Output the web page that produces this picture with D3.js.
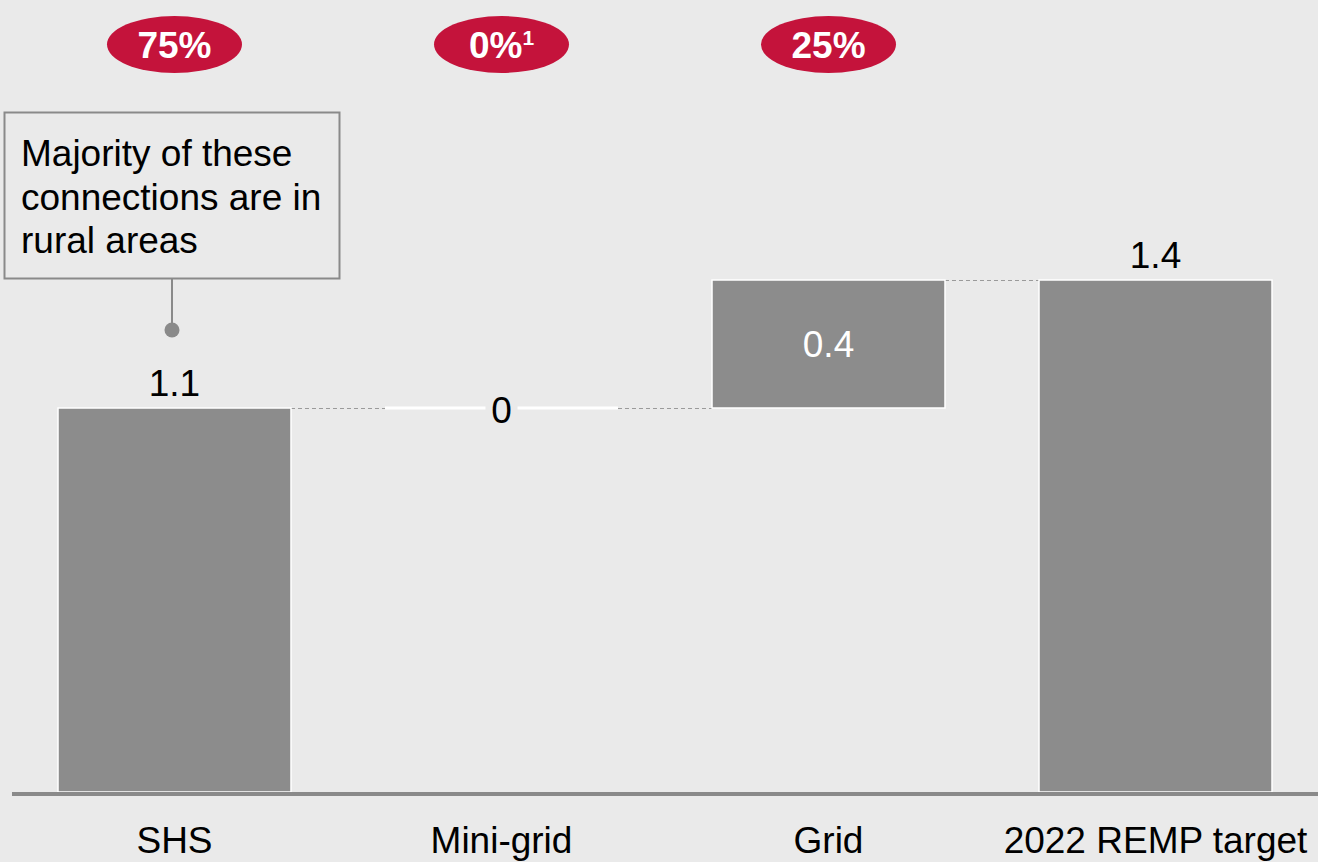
<!DOCTYPE html>
<html>
<head>
<meta charset="utf-8">
<script src="https://cdn.jsdelivr.net/npm/d3@7"></script>
<style>
  body { margin: 0; background: #eaeaea; }
  svg { display: block; font-family: "Liberation Sans", Arial, sans-serif; }
</style>
</head>
<body>
<script>
// waterfall data
var categories = ["SHS", "Mini-grid", "Grid", "2022 REMP target"];
var values = [1.05, 0, 0.35, 1.4];
var valueLabels = ["1.1", "0", "0.4", "1.4"];
var isTotal = [false, false, false, true];
var shareLabels = ["75%", "0%", "25%"];
var shareNotes = ["", "1", ""];
var noteLines = ["Majority of these", "connections are in", "rural areas"];

var W = 1318, H = 862;
var svg = d3.select("body").append("svg").attr("width", W).attr("height", H);
svg.append("rect").attr("width", W).attr("height", H).attr("fill", "#eaeaea");

var x = d3.scaleBand().domain(categories).range([58, 1272]).paddingInner(0.2875).paddingOuter(0);
var y = d3.scaleLinear().domain([0, 1.4]).range([792, 280]);

// running start/end for each step
var run = 0;
var steps = categories.map(function(c, i) {
  var s, e;
  if (isTotal[i]) { s = 0; e = values[i]; }
  else { s = run; e = run + values[i]; run = e; }
  return { cat: c, start: s, end: e, label: valueLabels[i], total: isTotal[i], i: i };
});

// connectors
var conn = svg.append("g");
steps.slice(0, -1).forEach(function(d, i) {
  var nx = steps[i + 1];
  conn.append("line")
    .attr("x1", x(d.cat) + x.bandwidth()).attr("x2", x(nx.cat))
    .attr("y1", y(d.end) + 0.5).attr("y2", y(d.end) + 0.5)
    .attr("stroke", "#9a9a9a").attr("stroke-width", 1)
    .attr("stroke-dasharray", "4,3");
});

// bars (zero steps drawn as a white line)
steps.forEach(function(d) {
  if (d.start === d.end) {
    svg.append("line")
      .attr("x1", x(d.cat)).attr("x2", x(d.cat) + x.bandwidth())
      .attr("y1", y(d.end)).attr("y2", y(d.end))
      .attr("stroke", "#ffffff").attr("stroke-width", 3);
  } else {
    svg.append("rect")
      .attr("x", x(d.cat))
      .attr("width", x.bandwidth())
      .attr("y", y(Math.max(d.start, d.end)))
      .attr("height", Math.abs(y(d.start) - y(d.end)))
      .attr("fill", "#8c8c8c")
      .attr("stroke", "#ffffff")
      .attr("stroke-width", 1.5);
  }
});

// value labels
steps.forEach(function(d) {
  var cx = x(d.cat) + x.bandwidth() / 2;
  if (d.start === d.end) {
    svg.append("rect").attr("x", cx - 16).attr("y", y(d.end) - 12)
      .attr("width", 32).attr("height", 24).attr("fill", "#eaeaea");
    svg.append("text").attr("x", cx).attr("y", y(d.end) + 15)
      .attr("text-anchor", "middle").attr("font-size", 37).attr("fill", "#000")
      .text(d.label);
  } else if (d.total || d.i === 0) {
    svg.append("text").attr("x", cx).attr("y", y(d.end) - 12)
      .attr("text-anchor", "middle").attr("font-size", 37).attr("fill", "#000")
      .text(d.label);
  } else {
    svg.append("text").attr("x", cx).attr("y", (y(d.start) + y(d.end)) / 2 + 13)
      .attr("text-anchor", "middle").attr("font-size", 37).attr("fill", "#fff")
      .text(d.label);
  }
});

// baseline
svg.append("line").attr("x1", 12).attr("x2", W)
  .attr("y1", y(0) + 2).attr("y2", y(0) + 2)
  .attr("stroke", "#8a8a8a").attr("stroke-width", 4);

// category labels
svg.selectAll("text.cat").data(categories).enter().append("text")
  .attr("class", "cat")
  .attr("x", function(d) { return x(d) + x.bandwidth() / 2; })
  .attr("y", 853)
  .attr("text-anchor", "middle").attr("font-size", 37).attr("fill", "#000")
  .text(function(d) { return d; });

// share pills
var pills = svg.selectAll("g.pill").data(shareLabels).enter().append("g")
  .attr("class", "pill")
  .attr("transform", function(d, i) { return "translate(" + (x(categories[i]) + x.bandwidth() / 2) + ",44.5)"; });
pills.append("ellipse").attr("rx", 67.5).attr("ry", 28.5).attr("fill", "#c4133b");
var pt = pills.append("text").attr("y", 13).attr("text-anchor", "middle")
  .attr("font-size", 37).attr("font-weight", "bold").attr("fill", "#fff");
pt.append("tspan").text(function(d) { return d; });
pt.append("tspan").attr("dy", -13).attr("font-size", 21)
  .text(function(d, i) { return shareNotes[i]; });

// annotation box
var ax = x(categories[0]) + x.bandwidth() / 2 - 2.5;
svg.append("rect").attr("x", 4.5).attr("y", 112.5).attr("width", 335).attr("height", 166)
  .attr("fill", "#eaeaea").attr("stroke", "#8a8a8a").attr("stroke-width", 2);
svg.append("line").attr("x1", ax).attr("x2", ax).attr("y1", 279).attr("y2", 325)
  .attr("stroke", "#8a8a8a").attr("stroke-width", 2);
svg.append("circle").attr("cx", ax).attr("cy", 330).attr("r", 7.5).attr("fill", "#8a8a8a");
svg.append("text").attr("font-size", 37).attr("fill", "#000")
  .selectAll("tspan").data(noteLines).enter().append("tspan")
  .attr("x", 21).attr("y", function(d, i) { return 166 + i * 43.5; })
  .text(function(d) { return d; });
</script>
</body>
</html>
